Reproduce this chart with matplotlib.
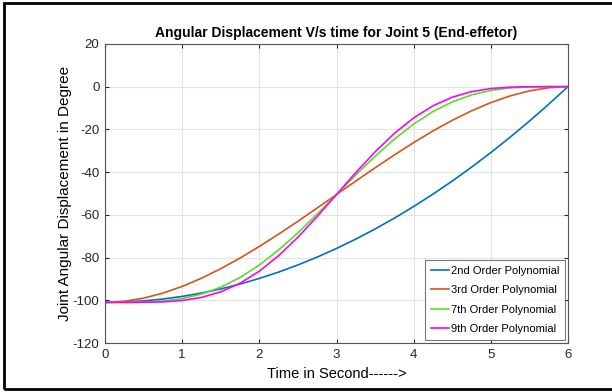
import matplotlib
matplotlib.use('Agg')
from matplotlib import pyplot as plt
from matplotlib.patches import Rectangle

plt.rcParams['font.family'] = ['Liberation Sans', 'DejaVu Sans']
plt.rcParams['axes.unicode_minus'] = False

# time samples (s) and joint angle (deg)
time = [0, 0.25, 0.5, 0.75, 1, 1.25, 1.5, 1.75, 2, 2.25, 2.5, 2.75, 3,
        3.25, 3.5, 3.75, 4, 4.25, 4.5, 4.75, 5, 5.25, 5.5, 5.75, 6]
order2 = [-101, -100.82, -100.3, -99.42, -98.19, -96.62, -94.69, -92.41, -89.78,
          -86.8, -83.47, -79.78, -75.75, -71.37, -66.63, -61.55, -56.11, -50.33,
          -44.19, -37.7, -30.86, -23.67, -16.13, -8.24, 0]
order3 = [-101, -100.49, -99.01, -96.66, -93.52, -89.68, -85.22, -80.24, -74.81,
          -69.04, -63.01, -56.8, -50.5, -44.2, -37.99, -31.96, -26.19, -20.76,
          -15.78, -11.32, -7.48, -4.34, -1.99, -0.51, 0]
order7 = [-101, -100.99, -100.86, -100.37, -99.22, -97.13, -93.87, -89.34, -83.5,
          -76.46, -68.41, -59.64, -50.5, -41.36, -32.59, -24.55, -17.5, -11.66,
          -7.13, -3.87, -1.78, -0.63, -0.14, -0.01, 0]
order9 = [-101, -101, -100.96, -100.75, -100.1, -98.65, -96.06, -92.02, -86.37,
          -79.12, -70.47, -60.76, -50.5, -40.24, -30.54, -21.88, -14.63, -8.98,
          -4.94, -2.35, -0.9, -0.25, -0.04, 0, 0]

fig = plt.figure(figsize=(6.12, 3.92), dpi=100)
ax = fig.add_axes([0.1716, 0.125, 0.7565, 0.763])

ax.plot(time, order2, color='#0072BD', lw=1.2, label='2nd Order Polynomial')
ax.plot(time, order3, color='#D95319', lw=1.2, label='3rd Order Polynomial')
ax.plot(time, order7, color='#55E01E', lw=1.2, label='7th Order Polynomial')
ax.plot(time, order9, color='#FF00FF', lw=1.2, label='9th Order Polynomial')

ax.set_xlim(0, 6)
ax.set_ylim(-120, 20)
ax.set_xticks(range(0, 7))
ax.set_yticks(range(-120, 21, 20))
ax.grid(True, color='#e3e3e3', lw=0.8)
ax.set_axisbelow(True)
for s in ax.spines.values():
    s.set_color('#555555')
    s.set_linewidth(0.8)
ax.tick_params(direction='in', length=3, labelsize=9.5, colors='#262626', pad=4,
               top=True, right=True)

ax.set_title('Angular Displacement V/s time for Joint 5 (End-effetor)',
             fontsize=10, fontweight='bold', pad=5)
ax.set_xlabel('Time in Second------>', fontsize=10.5)
ax.set_ylabel('Joint Angular Displacement in Degree', fontsize=11)
ax.xaxis.set_label_coords(0.5, -0.08)
ax.yaxis.set_label_coords(-0.072, 0.5)

leg = ax.legend(loc='lower right', fontsize=8, frameon=True, fancybox=False,
                edgecolor='#555555', handlelength=1.6, handletextpad=0.2,
                borderpad=0.5, labelspacing=0.85, borderaxespad=0.3)
leg.get_frame().set_linewidth(0.8)

# outer border of the picture
fig.patches.append(Rectangle((0.006, 0.008), 1.2, 0.985, transform=fig.transFigure,
                             fill=False, edgecolor='black', lw=2))

fig.savefig('out.png', dpi=100)
